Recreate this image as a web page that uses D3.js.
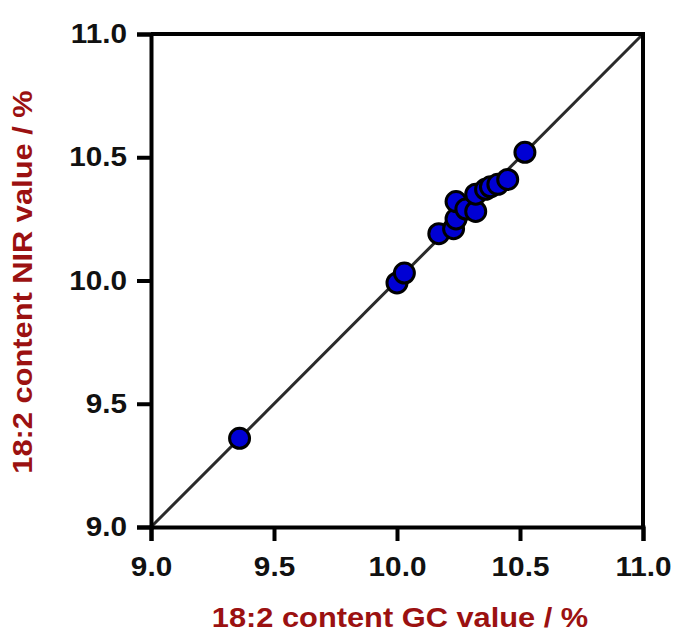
<!DOCTYPE html>
<html>
<head>
<meta charset="utf-8">
<script src="https://cdn.jsdelivr.net/npm/d3@7"></script>
<style>
  body { margin: 0; background: #fff; }
  svg text { font-family: 'Liberation Sans', Arial, sans-serif; font-weight: bold; }
</style>
</head>
<body>
<svg id="chart" width="674" height="634"></svg>
<script>
// reference values (GC) vs predicted values (NIR), 18:2 content in %
const gcValues = [9.36, 10.00, 10.03, 10.17, 10.23, 10.24, 10.24, 10.28, 10.32, 10.32, 10.36, 10.38, 10.41, 10.45, 10.52]
const nirValues = [9.36, 9.99, 10.03, 10.19, 10.21, 10.25, 10.32, 10.29, 10.28, 10.35, 10.37, 10.38, 10.39, 10.41, 10.52]
const tickValues = [9.0, 9.5, 10.0, 10.5, 11.0]
const axisDomain = [9.0, 11.0]

const svg = d3.select('#chart')
const plotLeft = 151
const plotRight = 643
const plotTop = 34
const plotBottom = 527
// the original lettering is a bit wider than Arial
const stretch = 1.1

const x = d3.scaleLinear().domain(axisDomain).range([plotLeft, plotRight])
const y = d3.scaleLinear().domain(axisDomain).range([plotBottom, plotTop])

const points = gcValues.map(function (d, i) {
  return { gc: d, nir: nirValues[i] }
})

// bisector line
svg.append('line')
  .attr('x1', x(axisDomain[0]))
  .attr('y1', y(axisDomain[0]))
  .attr('x2', x(axisDomain[1]))
  .attr('y2', y(axisDomain[1]))
  .attr('stroke', '#2a2a2a')
  .attr('stroke-width', 3)

// frame on top and right
svg.append('path')
  .attr('d', `M${plotLeft},${plotTop}H${plotRight}V${plotBottom}`)
  .attr('fill', 'none')
  .attr('stroke', '#000')
  .attr('stroke-width', 4)

const xAxis = svg.append('g')
  .attr('transform', `translate(0, ${plotBottom})`)
  .call(d3.axisBottom(x).tickValues(tickValues).tickFormat(d3.format('.1f')).tickSize(14).tickPadding(16))

const yAxis = svg.append('g')
  .attr('transform', `translate(${plotLeft}, 0)`)
  .call(d3.axisLeft(y).tickValues(tickValues).tickFormat(d3.format('.1f')).tickSize(14).tickPadding(10))

;[xAxis, yAxis].forEach(function (g) {
  g.select('.domain').attr('stroke', '#000').attr('stroke-width', 4)
  g.selectAll('.tick line').attr('stroke', '#000').attr('stroke-width', 4)
  g.selectAll('.tick text')
    .attr('fill', '#111')
    .style('font-size', '27px')
})

xAxis.selectAll('.tick text').attr('transform', `scale(${stretch},1)`)
yAxis.selectAll('.tick text').attr('transform', function () {
  const tx = +d3.select(this).attr('x')
  return `translate(${tx},0) scale(${stretch},1) translate(${-tx},0)`
})

svg.selectAll('.point')
  .data(points)
  .enter()
  .append('circle')
  .attr('class', 'point')
  .attr('cx', function (d) { return x(d.gc) })
  .attr('cy', function (d) { return y(d.nir) })
  .attr('r', 10)
  .attr('fill', '#0000d4')
  .attr('stroke', '#000')
  .attr('stroke-width', 3)

svg.append('text')
  .attr('transform', `translate(400, 627) scale(${stretch},1)`)
  .attr('text-anchor', 'middle')
  .attr('fill', '#9b1111')
  .style('font-size', '28px')
  .text('18:2 content GC value / %')

svg.append('text')
  .attr('transform', `translate(32, 282) rotate(-90) scale(${stretch},1)`)
  .attr('text-anchor', 'middle')
  .attr('fill', '#9b1111')
  .style('font-size', '28px')
  .text('18:2 content NIR value / %')
</script>
</body>
</html>
